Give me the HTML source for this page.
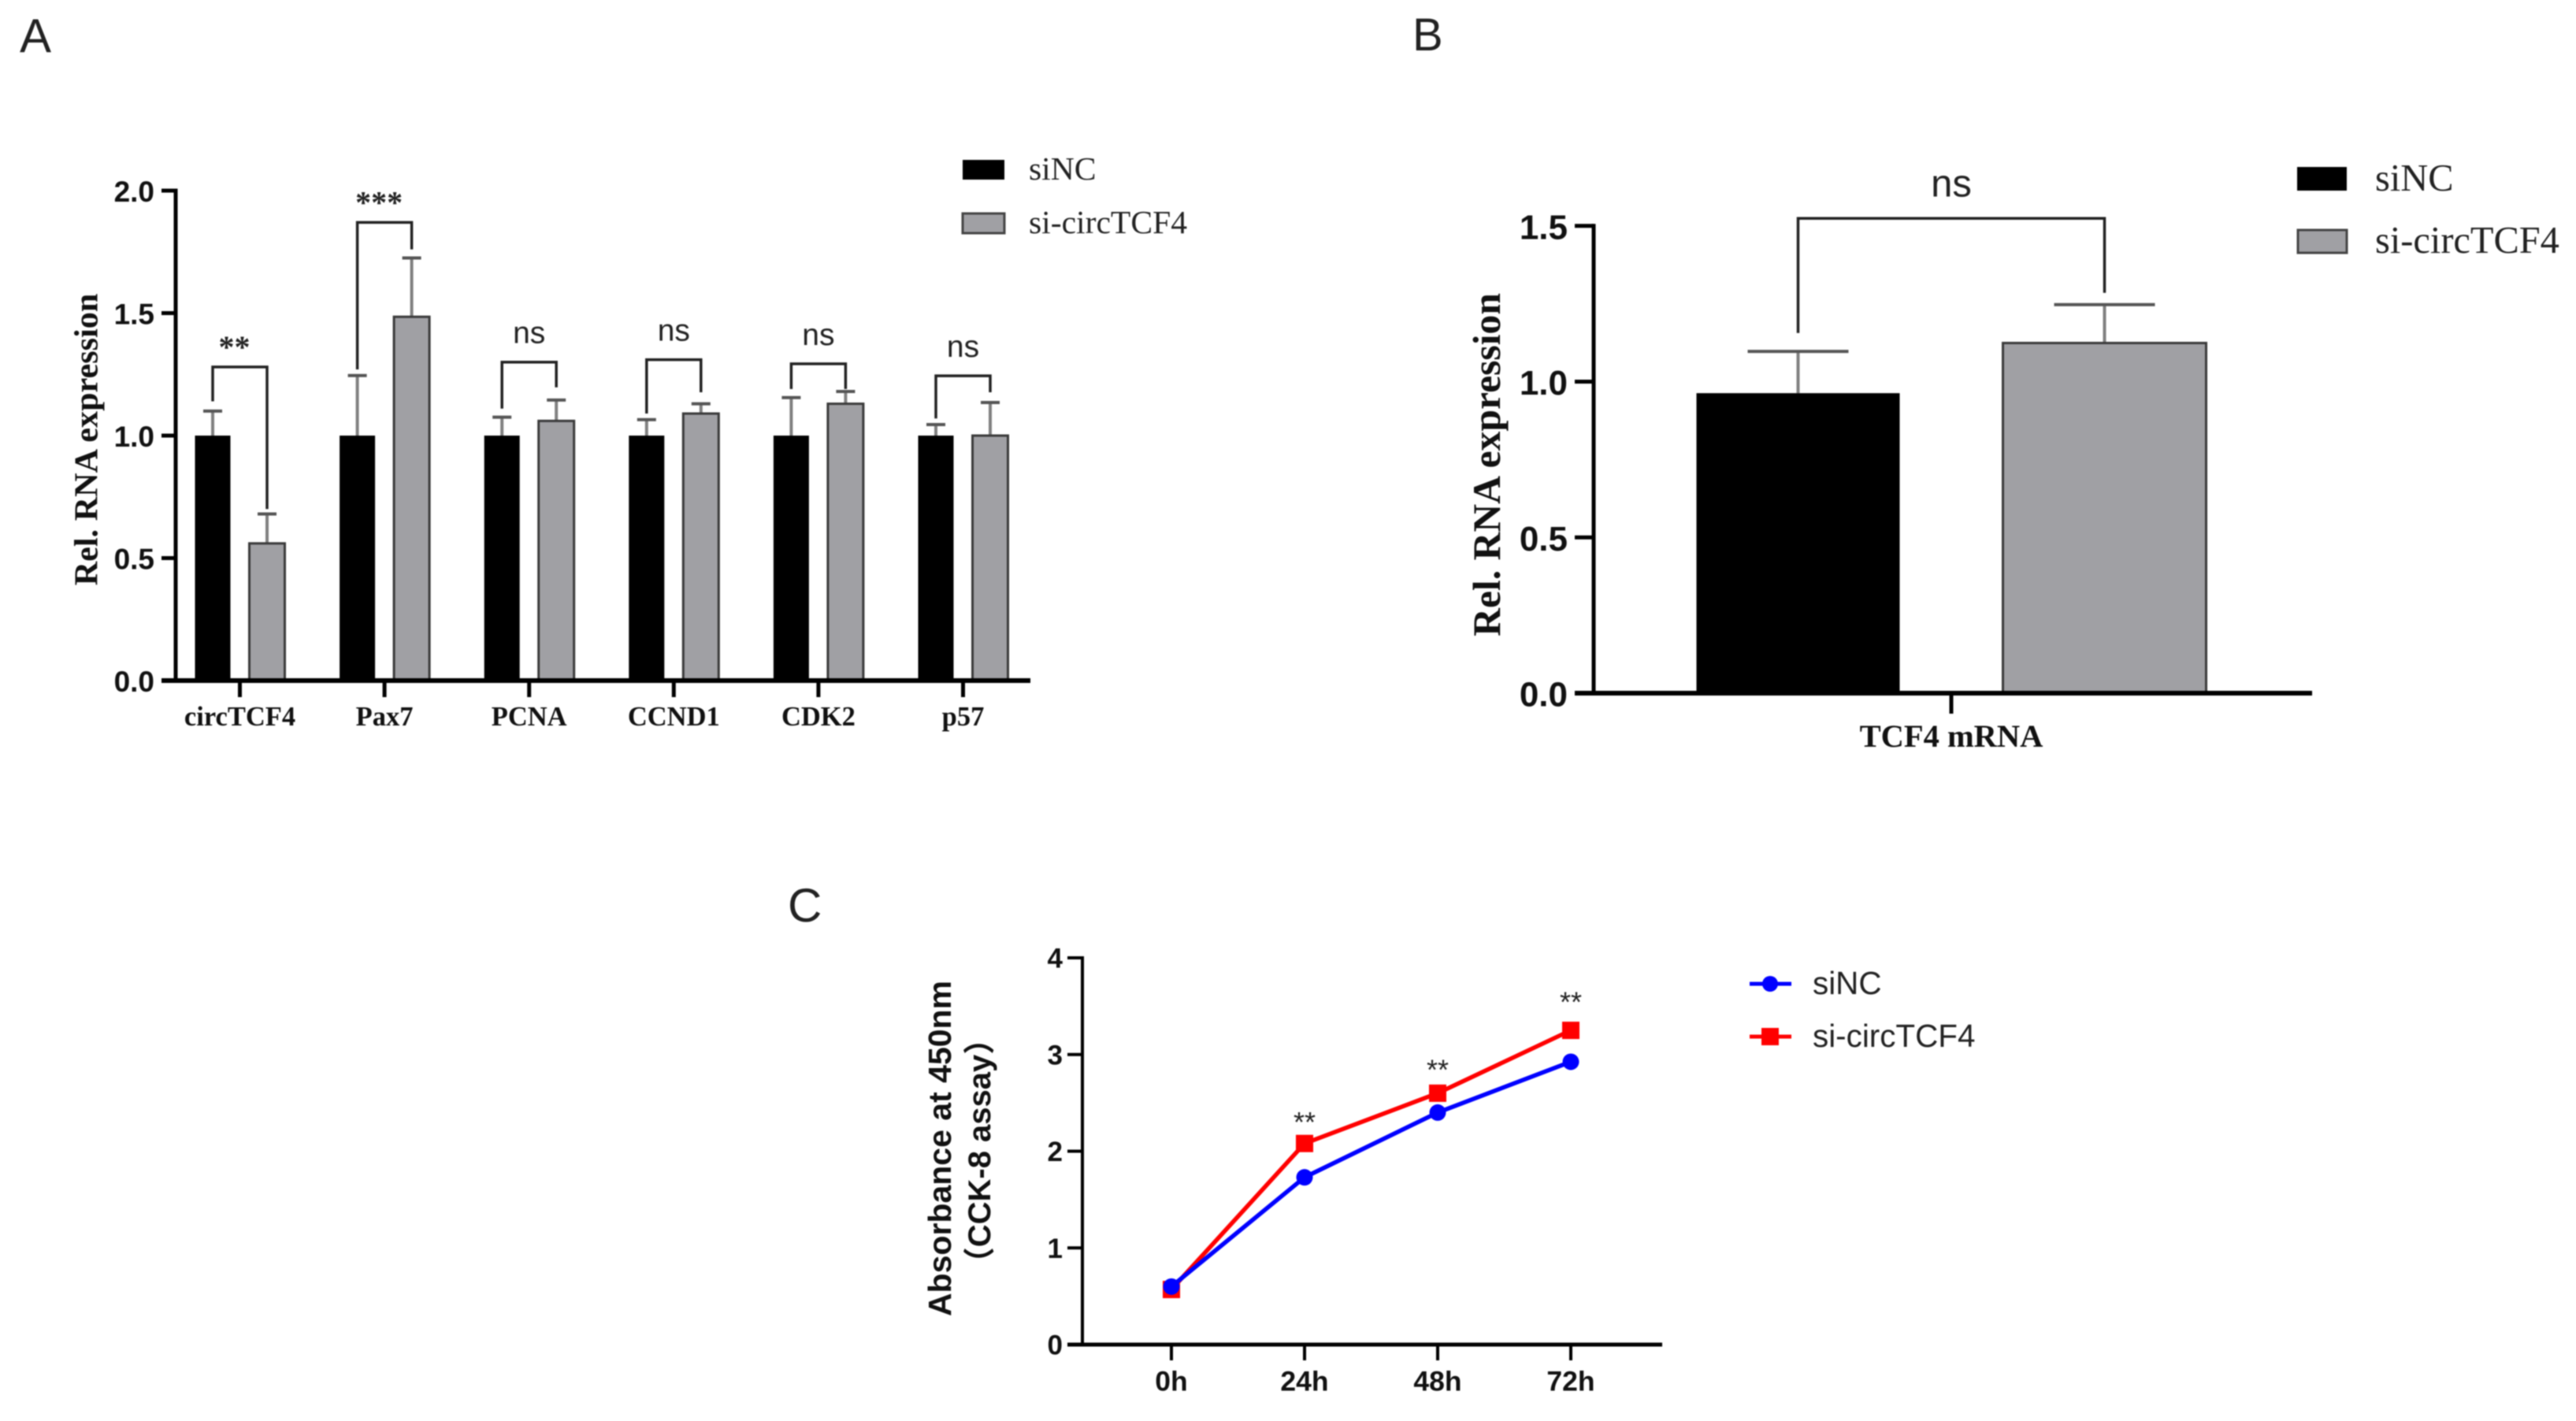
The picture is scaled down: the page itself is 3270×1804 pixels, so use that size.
<!DOCTYPE html>
<html lang="en">
<head>
<meta charset="utf-8">
<title>circTCF4 knockdown: RNA expression and CCK-8 assay</title>
<style>
html,body{margin:0;padding:0;background:#fff;}
body{width:3270px;height:1804px;overflow:hidden;}
svg{display:block;filter:blur(0.7px);}
.sans{font-family:"Liberation Sans",sans-serif;}
.serif{font-family:"Liberation Serif",serif;}
.cjk{font-family:"Liberation Sans","Noto Sans CJK SC",sans-serif;}
</style>
</head>
<body>
<svg id="figure" xmlns="http://www.w3.org/2000/svg" width="3270" height="1804" viewBox="0 0 3270 1804">
  <rect x="0" y="0" width="3270" height="1804" fill="#ffffff"/>

  <text class="sans" x="25" y="66" font-size="60" fill="#222">A</text>
  <text class="sans" x="1793" y="64" font-size="58" fill="#222">B</text>
  <text class="sans" x="1000" y="1170" font-size="60" fill="#222">C</text>

  <g id="panel-a">
    <text class="serif" font-weight="bold" font-size="42.2" fill="#111" text-anchor="middle" transform="translate(123.5 558) rotate(-90)">Rel. RNA expression</text>
    <g>
      <rect x="1222" y="203" width="53" height="25" fill="#000"/>
      <text class="serif" x="1306" y="228" font-size="41.6" fill="#222">siNC</text>
      <rect x="1222" y="271" width="53" height="25" fill="#a0a0a4" stroke="#444" stroke-width="3"/>
      <text class="serif" x="1306" y="296" font-size="41.6" fill="#222">si-circTCF4</text>
    </g>
  </g>

  <g id="panel-b">
    <text class="serif" font-weight="bold" font-size="49.6" fill="#111" text-anchor="middle" transform="translate(1904 590) rotate(-90)">Rel. RNA expression</text>
    <g>
      <rect x="2916" y="212" width="63" height="30" fill="#000"/>
      <text class="serif" x="3015" y="242" font-size="48.4" fill="#222">siNC</text>
      <rect x="2917" y="292" width="62" height="29" fill="#a0a0a4" stroke="#444" stroke-width="3"/>
      <text class="serif" x="3015" y="321" font-size="48.4" fill="#222">si-circTCF4</text>
    </g>
  </g>

  <g id="panel-c">
    <text class="sans" font-weight="bold" font-size="41" fill="#111" text-anchor="middle" transform="translate(1207 1458) rotate(-90)">Absorbance at 450nm</text>
    <text class="cjk" font-weight="bold" font-size="40" fill="#111" text-anchor="middle" transform="translate(1257 1461) rotate(-90)">（CCK-8 assay）</text>
    <g>
      <line x1="2221" y1="1249" x2="2274" y2="1249" stroke="#0000ff" stroke-width="5"/>
      <circle cx="2247" cy="1249" r="10" fill="#0000ff"/>
      <text class="sans" x="2301" y="1262" font-size="40.4" fill="#222">siNC</text>
      <line x1="2221" y1="1316" x2="2274" y2="1316" stroke="#ff0000" stroke-width="5"/>
      <rect x="2236" y="1305" width="22" height="22" fill="#ff0000"/>
      <text class="sans" x="2301" y="1329" font-size="40.4" fill="#222">si-circTCF4</text>
    </g>
  </g>
</svg>

<script>
// ----- Panel A data -----
const aCategories = ['circTCF4', 'Pax7', 'PCNA', 'CCND1', 'CDK2', 'p57'];
const aSiNC = [1.0, 1.0, 1.0, 1.0, 1.0, 1.0];
const aSiCirc = [0.56, 1.485, 1.06, 1.09, 1.13, 1.0];
const aSiNCErrTop = [1.10, 1.245, 1.075, 1.065, 1.155, 1.045];
const aSiCircErrTop = [0.68, 1.725, 1.145, 1.13, 1.18, 1.135];
const aSigLabels = ['**', '***', 'ns', 'ns', 'ns', 'ns'];
const aBracketTop = [1.28, 1.87, 1.30, 1.31, 1.293, 1.244];
const aBracketLeftEnd = [1.14, 1.27, 1.11, 1.09, 1.19, 1.07];
const aBracketRightEnd = [0.70, 1.76, 1.197, 1.177, 1.19, 1.177];
const aYTicks = [0, 0.5, 1.0, 1.5, 2.0];

// ----- Panel B data -----
const bCategories = ['TCF4 mRNA'];
const bSiNC = [0.963];
const bSiCirc = [1.124];
const bSiNCErrTop = [1.097];
const bSiCircErrTop = [1.247];
const bSigLabels = ['ns'];
const bBracketTop = [1.524];
const bBracketLeftEnd = [1.156];
const bBracketRightEnd = [1.285];
const bYTicks = [0, 0.5, 1.0, 1.5];

// ----- Panel C data -----
const cCategories = ['0h', '24h', '48h', '72h'];
const cSiNC = [0.60, 1.73, 2.40, 2.925];
const cSiCirc = [0.57, 2.08, 2.60, 3.25];
const cSigLabels = ['', '**', '**', '**'];
const cSigLevels = [0, 2.34, 2.88, 3.58];
const cYTicks = [0, 1, 2, 3, 4];

const SVGNS = 'http://www.w3.org/2000/svg';
const GRAY = '#a0a0a4';
const EDGE = '#3a3a3a';
const ERR = '#808080';

function make(parent, tag, attrs, text) {
  const el = document.createElementNS(SVGNS, tag);
  for (const k in attrs) el.setAttribute(k, attrs[k]);
  if (text !== undefined) el.textContent = text;
  parent.appendChild(el);
  return el;
}

// Axis functions
const yA = v => 864 - v * 311;
const xA = i => 304.5 + i * 183.6;
const yB = v => 880 - v * 395.5;
const xB = i => 2477 + i;
const yC = v => 1707 - v * 122.75;
const xC = i => 1487 + i * 169;

function drawBarPanel(opts) {
  const g = document.getElementById(opts.id);
  const p = opts.prefix;
  opts.categories.forEach(function (cat, i) {
    const key = p + '-' + cat.toLowerCase().replace(/\s+/g, '-');
    const cx = opts.x(i);
    const xL = cx - opts.offset;
    const xR = cx + opts.offset;
    const y0 = opts.y(0);

    const el1 = make(g, 'line', {x1: xL, x2: xL, y1: opts.y(opts.siNC[i]), y2: opts.y(opts.errL[i]), stroke: ERR, 'stroke-width': opts.errW});
    
    
    const el2 = make(g, 'line', {x1: xL - opts.cap, x2: xL + opts.cap, y1: opts.y(opts.errL[i]), y2: opts.y(opts.errL[i]), stroke: '#555', 'stroke-width': opts.errW});
    
    
    const el3 = make(g, 'line', {x1: xR, x2: xR, y1: opts.y(opts.siCirc[i]), y2: opts.y(opts.errR[i]), stroke: ERR, 'stroke-width': opts.errW});
    
    
    const el4 = make(g, 'line', {x1: xR - opts.cap, x2: xR + opts.cap, y1: opts.y(opts.errR[i]), y2: opts.y(opts.errR[i]), stroke: '#555', 'stroke-width': opts.errW});
    
    

    const barL = make(g, 'rect', {x: xL - opts.barW / 2, y: opts.y(opts.siNC[i]), width: opts.barW, height: y0 - opts.y(opts.siNC[i]), fill: '#000'});
    
    
    const barR = make(g, 'rect', {x: xR - opts.barW / 2, y: opts.y(opts.siCirc[i]), width: opts.barW, height: y0 - opts.y(opts.siCirc[i]), fill: GRAY, stroke: EDGE, 'stroke-width': 3});
    
    

    const top = opts.y(opts.bTop[i]);
    const br = make(g, 'path', {d: 'M' + xL + ' ' + opts.y(opts.bLeft[i]) + 'V' + top + 'H' + xR + 'V' + opts.y(opts.bRight[i]), fill: 'none', stroke: '#222', 'stroke-width': opts.brW});
    
    

    const isStar = opts.sig[i].charAt(0) === '*';
    const sigText = make(g, 'text', {
      x: (xL + xR) / 2 - (isStar ? opts.starShift : 0), y: top - (isStar ? opts.starGap : opts.nsGap), 'text-anchor': 'middle',
      'font-size': isStar ? 40 : opts.nsSize, 'font-weight': isStar ? 'bold' : 'normal',
      fill: '#222', 'class': isStar ? 'serif' : 'sans'
    }, opts.sig[i]);
    
    

    const tick = make(g, 'line', {x1: cx, x2: cx, y1: y0, y2: y0 + opts.xTickLen, stroke: '#000', 'stroke-width': opts.axisW});
    
    
    const lab = make(g, 'text', {x: cx, y: opts.xLabelY, 'text-anchor': 'middle', 'font-size': opts.xLabelSize, 'font-weight': 'bold', fill: '#111', 'class': 'serif'}, cat);
    
    
  });

  opts.yTicks.forEach(function (t) {
    const yt = opts.y(t);
    const tk = make(g, 'line', {x1: opts.axisX - opts.yTickLen, x2: opts.axisX, y1: yt, y2: yt, stroke: '#000', 'stroke-width': opts.axisW});
    
    
    const tl = make(g, 'text', {x: opts.yLabelX, y: yt + opts.yLabelSize * 0.38, 'text-anchor': 'end', 'font-size': opts.yLabelSize, 'font-weight': 'bold', fill: '#111', 'class': 'sans'}, t.toFixed(1));
    
    
  });

  const yTop = opts.y(opts.yTicks[opts.yTicks.length - 1]);
  const yAxis = make(g, 'line', {x1: opts.axisX, x2: opts.axisX, y1: yTop - opts.axisW / 2, y2: opts.y(0), stroke: '#000', 'stroke-width': opts.axisW});
  
  
  const xAxis = make(g, 'line', {x1: opts.axisX - opts.yTickLen, x2: opts.axisEnd, y1: opts.y(0), y2: opts.y(0), stroke: '#000', 'stroke-width': opts.axisW + 1});
  
  
}

drawBarPanel({
  id: 'panel-a', prefix: 'panel-a', categories: aCategories, x: xA, y: yA, offset: 34.5, barW: 45, cap: 12,
  siNC: aSiNC, siCirc: aSiCirc, errL: aSiNCErrTop, errR: aSiCircErrTop,
  bTop: aBracketTop, bLeft: aBracketLeftEnd, bRight: aBracketRightEnd, sig: aSigLabels,
  starGap: 12, starShift: 7, nsGap: 24, nsSize: 39, errW: 4, brW: 3.5, axisW: 5, xTickLen: 21, yTickLen: 18,
  xLabelY: 921, xLabelSize: 34.5, yTicks: aYTicks, yLabelX: 196, yLabelSize: 37, axisX: 223, axisEnd: 1308
});

drawBarPanel({
  id: 'panel-b', prefix: 'panel-b', categories: bCategories, x: xB, y: yB, offset: 194.5, barW: 258, cap: 64,
  siNC: bSiNC, siCirc: bSiCirc, errL: bSiNCErrTop, errR: bSiCircErrTop,
  bTop: bBracketTop, bLeft: bBracketLeftEnd, bRight: bBracketRightEnd, sig: bSigLabels,
  starGap: 8, starShift: 0, nsGap: 28, nsSize: 49, errW: 4, brW: 3.5, axisW: 5, xTickLen: 26, yTickLen: 24,
  xLabelY: 948, xLabelSize: 40.5, yTicks: bYTicks, yLabelX: 1990, yLabelSize: 44, axisX: 2023, axisEnd: 2935
});

(function drawPanelC() {
  const g = document.getElementById('panel-c');
  const y0 = yC(0);

  cYTicks.forEach(function (t) {
    const tk = make(g, 'line', {x1: 1355, x2: 1374, y1: yC(t), y2: yC(t), stroke: '#000', 'stroke-width': 4});
    
    
    const tl = make(g, 'text', {x: 1349, y: yC(t) + 12.5, 'text-anchor': 'end', 'font-size': 35, 'font-weight': 'bold', fill: '#111', 'class': 'sans'}, String(t));
    
    
  });

  const yAxis = make(g, 'line', {x1: 1374, x2: 1374, y1: yC(4) - 2, y2: y0, stroke: '#000', 'stroke-width': 4});
  
  
  const xAxis = make(g, 'line', {x1: 1355, x2: 2110, y1: y0, y2: y0, stroke: '#000', 'stroke-width': 5});
  
  

  cCategories.forEach(function (cat, i) {
    const tk = make(g, 'line', {x1: xC(i), x2: xC(i), y1: y0, y2: y0 + 20, stroke: '#000', 'stroke-width': 4});
    
    
    const tl = make(g, 'text', {x: xC(i), y: 1765.5, 'text-anchor': 'middle', 'font-size': 35.5, 'font-weight': 'bold', fill: '#111', 'class': 'sans'}, cat);
    
    
  });

  const redLine = make(g, 'polyline', {points: cSiCirc.map(function (v, i) { return xC(i) + ',' + yC(v); }).join(' '), fill: 'none', stroke: '#ff0000', 'stroke-width': 5.5});
  
  
  cSiCirc.forEach(function (v, i) {
    const m = make(g, 'rect', {x: xC(i) - 11, y: yC(v) - 11, width: 22, height: 22, fill: '#ff0000'});
    
    
  });

  const blueLine = make(g, 'polyline', {points: cSiNC.map(function (v, i) { return xC(i) + ',' + yC(v); }).join(' '), fill: 'none', stroke: '#0000ff', 'stroke-width': 5.5});
  
  
  cSiNC.forEach(function (v, i) {
    const m = make(g, 'circle', {cx: xC(i), cy: yC(v), r: 10.5, fill: '#0000ff'});
    
    
  });

  cSigLabels.forEach(function (s, i) {
    if (!s) return;
    const t = make(g, 'text', {x: xC(i), y: yC(cSigLevels[i]) + 17, 'text-anchor': 'middle', 'font-size': 36, fill: '#222', 'class': 'sans'}, s);
    
    
  });
})();
</script>
</body>
</html>
